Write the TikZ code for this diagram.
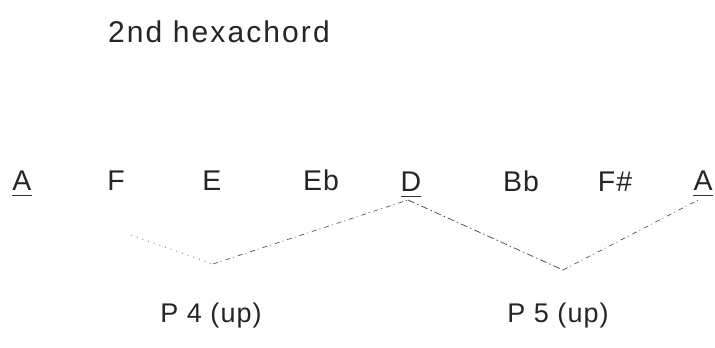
\documentclass[tikz,border=0pt]{standalone}
\usepackage{fontspec}
\setmainfont{Liberation Sans}
\newfontfamily\notefont[LetterSpace=4]{Liberation Sans}
\newfontfamily\titlefont[LetterSpace=7]{Liberation Sans}
\begin{document}
\begin{tikzpicture}[x=1pt,y=-1pt,
  note/.style={inner sep=0pt,anchor=base,font=\notefont\fontsize{28.5}{30}\selectfont,text=black!85},
  lbl/.style={inner sep=0pt,anchor=base,font=\notefont\fontsize{27}{29}\selectfont,text=black!85},
  uline/.style={line width=0.7pt,black!80},
  linkdot/.style={line width=0.6pt,black!70,dash pattern=on 1pt off 5pt},
  linkdash/.style={line width=0.6pt,black!75,dash pattern=on 5pt off 3pt on 1pt off 4pt},
  linkdd/.style={line width=0.7pt,black!75,dash pattern=on 7pt off 3pt on 1.5pt off 3pt}]
\path[use as bounding box,fill=white] (0,0) rectangle (715,348);
\node[note,anchor=base west,font=\titlefont\fontsize{30}{32}\selectfont] (title) at (108,42) {2nd hexachord};
\node[note] (n1) at (22,190) {A};
\node[note] (n2) at (116,190) {F};
\node[note] (n3) at (212,190) {E};
\node[note] (n4) at (321,190) {Eb};
\node[note] (n5) at (411,191) {D};
\node[note] (n6) at (521,191) {Bb};
\node[note] (n7) at (615,191) {F\#};
\node[note] (n8) at (703,190) {A};
\draw[uline] ([yshift=-5pt]n1.base west) -- ([yshift=-5pt]n1.base east);
\draw[uline] ([yshift=-5pt]n5.base west) -- ([yshift=-5pt]n5.base east);
\draw[uline] ([yshift=-5pt]n8.base west) -- ([yshift=-5pt]n8.base east);
\coordinate (s) at (131,235);
\coordinate (v1) at (213,264);
\coordinate (dtop) at (408,200);
\coordinate (v2) at (563,270);
\coordinate (atop) at (700,199);
\draw[linkdot] (s) -- (v1);
\draw[linkdash] (v1) -- (dtop);
\draw[linkdd] (dtop) -- (v2);
\draw[linkdash] (v2) -- (atop);
\node[lbl] (p4) at (211,322) {P 4 (up)};
\node[lbl] (p5) at (558,322) {P 5 (up)};
\end{tikzpicture}
\end{document}
